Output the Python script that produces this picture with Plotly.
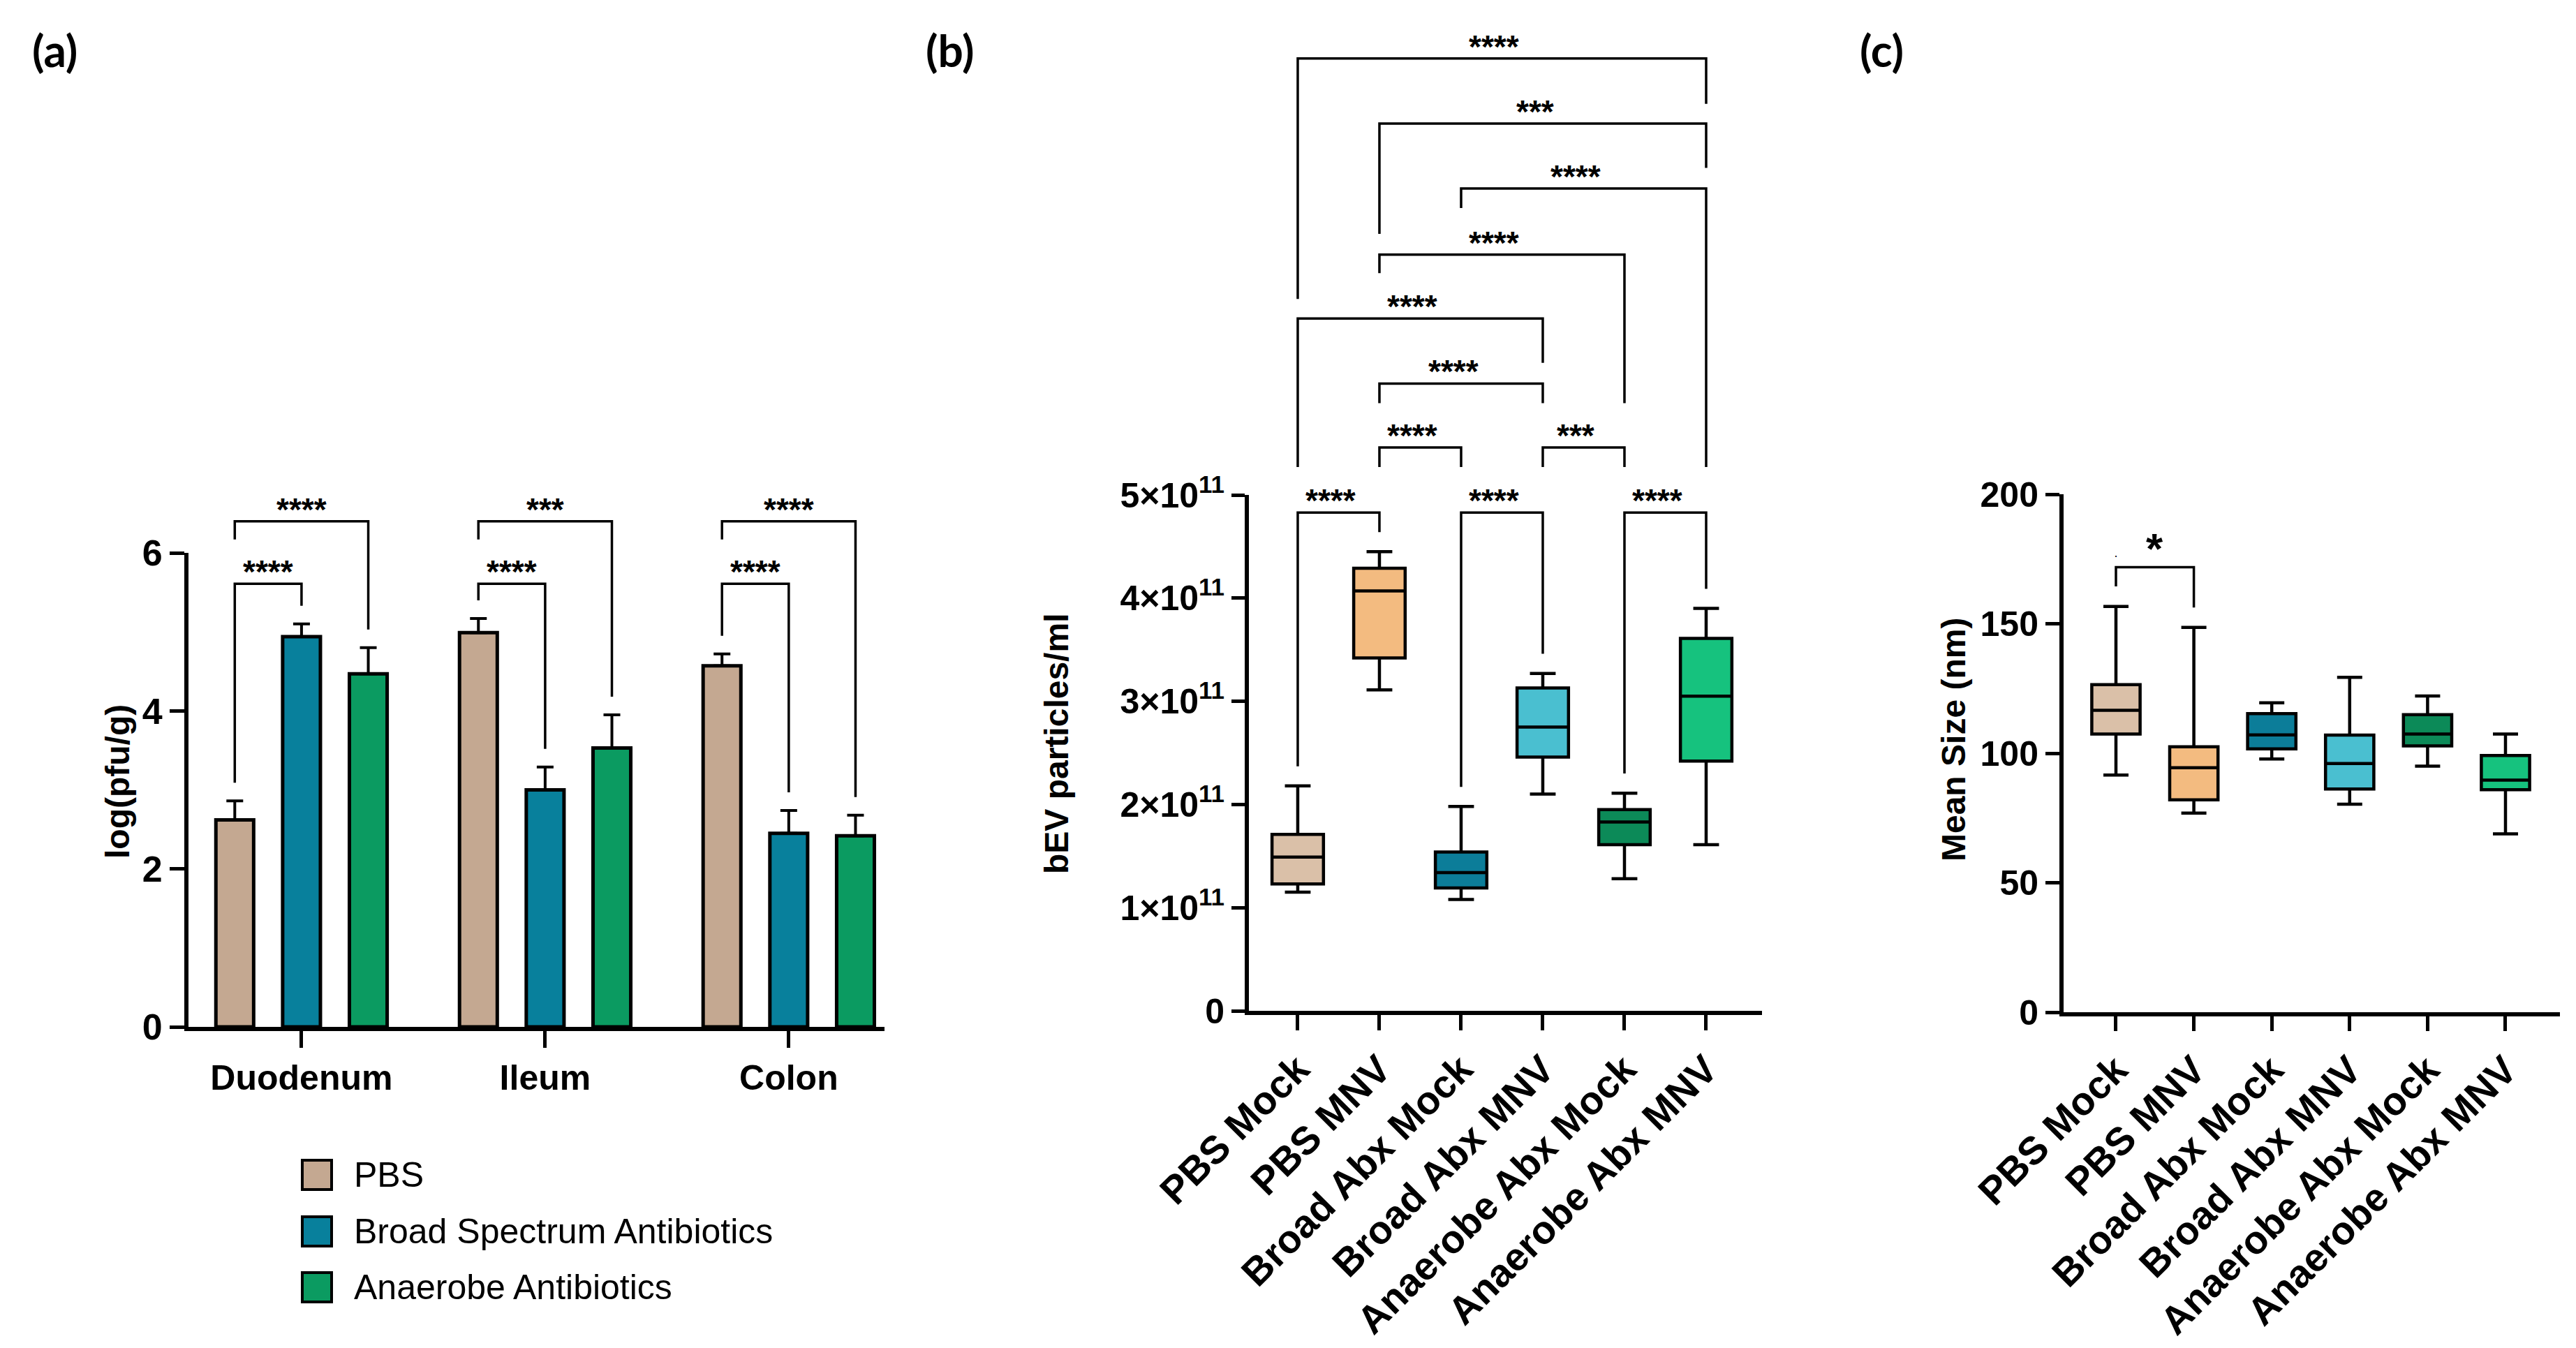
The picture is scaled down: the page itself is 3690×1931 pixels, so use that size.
import plotly.graph_objects as go

# ---------------- data ----------------
# Panel (a): log(pfu/g), mean + upper error
A_CATS = ["Duodenum", "Ileum", "Colon"]
A_SERIES = ["PBS", "Broad Spectrum Antibiotics", "Anaerobe Antibiotics"]
A_PBS = [2.62, 4.99, 4.57]
A_PBS_ERR = [0.24, 0.18, 0.15]
A_BROAD = [4.94, 3.00, 2.45]
A_BROAD_ERR = [0.16, 0.29, 0.29]
A_ANA = [4.47, 3.53, 2.42]
A_ANA_ERR = [0.33, 0.42, 0.26]
A_SIG_INNER = ["****", "****", "****"]   # PBS vs Broad
A_SIG_OUTER = ["****", "***", "****"]    # PBS vs Anaerobe
A_LEVEL_INNER = 5.61
A_LEVEL_OUTER = 6.40

# Panel (b) and (c) groups
GROUPS = ["PBS Mock", "PBS MNV", "Broad Abx Mock", "Broad Abx MNV",
          "Anaerobe Abx Mock", "Anaerobe Abx MNV"]

# Panel (b): bEV particles/ml (units of 1e11)
B_LOW = [1.15, 3.11, 1.08, 2.10, 1.28, 1.61]
B_Q1 = [1.23, 3.42, 1.19, 2.46, 1.61, 2.42]
B_MED = [1.49, 4.07, 1.34, 2.75, 1.83, 3.05]
B_Q3 = [1.71, 4.29, 1.54, 3.13, 1.95, 3.61]
B_HIGH = [2.18, 4.45, 1.98, 3.27, 2.11, 3.90]
B_TICKS = [0, 1, 2, 3, 4, 5]
# significance brackets: (group i, group j, label, level, left leg end, right leg end) in 1e11
# None -> leg ends just above the whisker
B_BRACKETS = [
    (0, 1, "****", 4.83, None, None),
    (2, 3, "****", 4.83, None, None),
    (4, 5, "****", 4.83, None, None),
    (1, 2, "****", 5.46, 5.27, 5.27),
    (3, 4, "***", 5.46, 5.27, 5.27),
    (1, 3, "****", 6.08, 5.89, 5.89),
    (0, 3, "****", 6.71, 5.27, 6.28),
    (1, 4, "****", 7.33, 7.15, 5.89),
    (2, 5, "****", 7.97, 7.78, 5.27),
    (1, 5, "***", 8.60, 7.53, 8.17),
    (0, 5, "****", 9.23, 6.90, 8.79),
]

# Panel (c): Mean size (nm)
C_LOW = [91.6, 76.9, 97.8, 80.3, 95.0, 68.9]
C_Q1 = [107.4, 82.0, 101.7, 86.2, 102.8, 85.9]
C_MED = [116.6, 94.4, 107.1, 96.0, 107.4, 89.6]
C_Q3 = [126.5, 102.5, 115.3, 107.0, 114.9, 99.1]
C_HIGH = [156.7, 148.6, 119.5, 129.3, 122.1, 107.4]
C_TICKS = [0, 50, 100, 150, 200]
C_BRACKET = (0, 1, "*", 171.8)

# ---------------- styles ----------------
W, H = 3690, 1931
FONT = "Liberation Sans"
A_COLORS = ["#C4A891", "#08809C", "#0B9B61"]
G_COLORS = ["#DAC0A8", "#F3BB80", "#0C7D99", "#4ABFD0", "#0C8A58", "#16C27E"]
BAR_STEP = 0.274
BAR_W = 0.155


def fx(p):
    return p / W


def fy(p):
    return 1 - p / H


fig = go.Figure()

# ---------- panel (a) bars ----------
a_vals = [A_PBS, A_BROAD, A_ANA]
a_errs = [A_PBS_ERR, A_BROAD_ERR, A_ANA_ERR]
for k in range(3):
    fig.add_trace(go.Bar(
        x=list(range(len(A_CATS))), y=a_vals[k], name=A_SERIES[k],
        width=BAR_W, offset=(k - 1) * BAR_STEP - BAR_W / 2,
        marker=dict(color=A_COLORS[k], line=dict(color="black", width=5)),
        error_y=dict(type="data", array=a_errs[k], arrayminus=[0] * 3,
                     symmetric=False, thickness=4, width=12, color="black"),
        xaxis="x", yaxis="y", showlegend=False, hoverinfo="skip"))

# brackets (a)
GAP_A = 0.23
bx, by = [], []
ann = []
for g in range(len(A_CATS)):
    tops = [a_vals[k][g] + a_errs[k][g] for k in range(3)]
    xs = [g + (k - 1) * BAR_STEP for k in range(3)]
    # inner: PBS vs Broad
    bx += [xs[0], xs[0], xs[1], xs[1], None]
    by += [tops[0] + GAP_A, A_LEVEL_INNER, A_LEVEL_INNER, tops[1] + GAP_A, None]
    ann.append(dict(x=(xs[0] + xs[1]) / 2, y=A_LEVEL_INNER, text=A_SIG_INNER[g],
                    xref="x", yref="y6"))
    # outer: PBS vs Anaerobe
    bx += [xs[0], xs[0], xs[2], xs[2], None]
    by += [A_LEVEL_OUTER - GAP_A, A_LEVEL_OUTER, A_LEVEL_OUTER, tops[2] + GAP_A, None]
    ann.append(dict(x=(xs[0] + xs[2]) / 2, y=A_LEVEL_OUTER, text=A_SIG_OUTER[g],
                    xref="x", yref="y6"))
fig.add_trace(go.Scatter(x=bx, y=by, mode="lines", line=dict(color="black", width=3.5),
                         xaxis="x", yaxis="y6", showlegend=False, hoverinfo="skip"))

# ---------- panel (b) boxes ----------
for i, gname in enumerate(GROUPS):
    fig.add_trace(go.Box(
        x=[i], q1=[B_Q1[i] * 1e11], median=[B_MED[i] * 1e11], q3=[B_Q3[i] * 1e11],
        lowerfence=[B_LOW[i] * 1e11], upperfence=[B_HIGH[i] * 1e11],
        width=0.63, whiskerwidth=0.5, fillcolor=G_COLORS[i],
        line=dict(color="black", width=4.5), boxpoints=False, name=gname,
        xaxis="x2", yaxis="y2", showlegend=False, hoverinfo="skip"))

GAP_B = 0.19
bx, by = [], []
for (i, j, lab, lev, le, re) in B_BRACKETS:
    le = B_HIGH[i] + GAP_B if le is None else le
    re = B_HIGH[j] + GAP_B if re is None else re
    bx += [i, i, j, j, None]
    by += [le * 1e11, lev * 1e11, lev * 1e11, re * 1e11, None]
    ann.append(dict(x=(i + j) / 2, y=lev * 1e11, text=lab, xref="x2", yref="y5", xshift=-11))
fig.add_trace(go.Scatter(x=bx, y=by, mode="lines", line=dict(color="black", width=3.5),
                         xaxis="x2", yaxis="y5", showlegend=False, hoverinfo="skip"))

# ---------- panel (c) boxes ----------
for i, gname in enumerate(GROUPS):
    fig.add_trace(go.Box(
        x=[i], q1=[C_Q1[i]], median=[C_MED[i]], q3=[C_Q3[i]],
        lowerfence=[C_LOW[i]], upperfence=[C_HIGH[i]],
        width=0.62, whiskerwidth=0.52, fillcolor=G_COLORS[i],
        line=dict(color="black", width=4.5), boxpoints=False, name=gname,
        xaxis="x3", yaxis="y3", showlegend=False, hoverinfo="skip"))

GAP_C = 7.7
ci, cj, clab, clev = C_BRACKET
fig.add_trace(go.Scatter(
    x=[ci, ci, cj, cj], y=[C_HIGH[ci] + GAP_C, clev, clev, C_HIGH[cj] + GAP_C],
    mode="lines", line=dict(color="black", width=3.5),
    xaxis="x3", yaxis="y3", showlegend=False, hoverinfo="skip"))
ann.append(dict(x=(ci + cj) / 2, y=clev, text=clab, xref="x3", yref="y3", yshift=2,
                font=dict(family=FONT, size=62, color="black", weight="bold")))
ann.append(dict(x=ci, y=clev + 7.5, text="·", xref="x3", yref="y3",
                font=dict(family=FONT, size=18, color="black"), yanchor="middle"))

# significance label styling
for a in ann:
    a.setdefault("font", dict(family=FONT, size=46, color="black", weight="bold"))
    a.setdefault("yanchor", "bottom")
    a["yshift"] = a.get("yshift", 0) - 11
    a["showarrow"] = False
    a["xanchor"] = "center"

# axis titles and panel labels
TITLE_FONT = dict(family=FONT, size=48, color="black", weight="bold")
ann += [
    dict(x=fx(160), y=fy(1112), text="log(pfu/g)", textangle=-90, font=TITLE_FONT),
    dict(x=fx(1505), y=fy(1058), text="bEV particles/ml", textangle=-90, font=TITLE_FONT),
    dict(x=fx(2790), y=fy(1052), text="Mean Size (nm)", textangle=-90, font=TITLE_FONT),
]
PANEL_FONT = dict(family="Lato", size=64, color="black", weight="bold")
for lab, (px, py) in zip(["(a)", "(b)", "(c)"], [(70, 64), (1353, 64), (2687, 64)]):
    ann.append(dict(x=fx(px), y=fy(py), text=lab, font=PANEL_FONT))
for a in ann[-6:]:
    a.update(xref="paper", yref="paper", showarrow=False, xanchor="center", yanchor="middle")

# manual legend for panel (a)
shapes = []
LEG_FONT = dict(family=FONT, size=50, color="black")
for k, yc in enumerate([1675, 1756, 1836]):
    shapes.append(dict(type="rect", xref="paper", yref="paper",
                       x0=fx(425), x1=fx(467), y0=fy(yc + 21), y1=fy(yc - 21),
                       fillcolor=A_COLORS[k], line=dict(color="black", width=4)))
    ann.append(dict(x=fx(497), y=fy(yc), xref="paper", yref="paper", text=A_SERIES[k],
                    showarrow=False, xanchor="left", yanchor="middle", font=LEG_FONT))

AX = dict(showline=True, linewidth=6, linecolor="black", ticks="outside", tickwidth=5,
          tickcolor="black", showgrid=False, zeroline=False, fixedrange=True,
          automargin=False)
TICKFONT = dict(family=FONT, size=50, color="black", weight="bold")

fig.update_layout(
    width=W, height=H, margin=dict(l=0, r=0, t=0, b=0, pad=0, autoexpand=False),
    paper_bgcolor="white", plot_bgcolor="rgba(0,0,0,0)",
    barmode="overlay", boxmode="overlay", showlegend=False,
    xaxis=dict(AX, domain=[fx(262), fx(1259)], range=[-0.464, 2.393], anchor="y",
               tickvals=list(range(len(A_CATS))), ticktext=A_CATS, ticklen=24,
               tickfont=dict(TICKFONT, size=50)),
    yaxis=dict(AX, domain=[fy(1463), fy(784)], range=[0, 6], anchor="x",
               tickvals=[0, 2, 4, 6], ticklen=21, tickfont=dict(TICKFONT, size=52)),
    yaxis6=dict(domain=[fy(1463), fy(690)], range=[0, 6 * (1463 - 690) / (1463 - 784)],
                anchor="x", visible=False, fixedrange=True, automargin=False),
    xaxis2=dict(AX, domain=[fx(1781), fx(2516)], range=[-0.598, 5.684], anchor="y2",
                tickvals=list(range(len(GROUPS))), ticktext=GROUPS, tickangle=-45, ticklen=22,
                tickfont=dict(TICKFONT, size=56)),
    yaxis2=dict(AX, domain=[fy(1440), fy(701)], range=[0, 5e11], anchor="x2",
                tickvals=[t * 1e11 for t in B_TICKS],
                ticktext=["0" if t == 0 else f"{t}×10<sup>11</sup>" for t in B_TICKS],
                ticklen=19, tickfont=dict(TICKFONT, size=50)),
    yaxis5=dict(domain=[fy(1440), fy(30)], range=[0, 5e11 * (1440 - 30) / (1440 - 701)],
                anchor="x2", visible=False, fixedrange=True, automargin=False),
    xaxis3=dict(AX, domain=[fx(2948), fx(3659)], range=[-0.672, 5.699], anchor="y3",
                tickvals=list(range(len(GROUPS))), ticktext=GROUPS, tickangle=-45, ticklen=21,
                tickfont=dict(TICKFONT, size=56)),
    yaxis3=dict(AX, domain=[fy(1442), fy(700)], range=[0, 200], anchor="x3",
                tickvals=C_TICKS, ticklen=20, tickfont=dict(TICKFONT, size=50)),
    annotations=ann, shapes=shapes,
)

fig.write_html("out.html")
